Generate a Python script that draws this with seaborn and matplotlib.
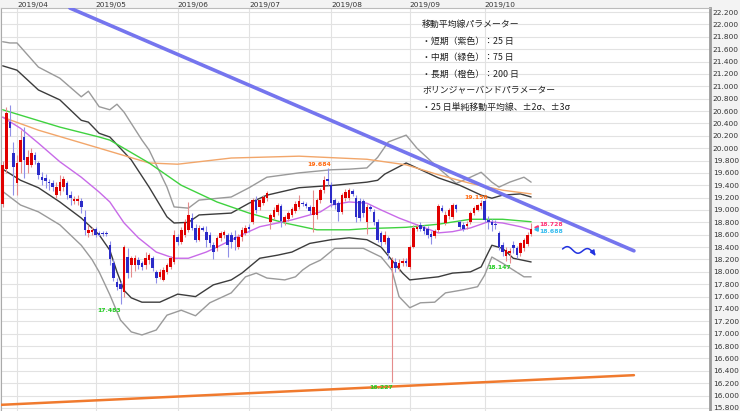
import numpy as np
import pandas as pd
import matplotlib
matplotlib.use("Agg")
import matplotlib.pyplot as plt
import seaborn as sns

# candles: index 0 = 2019/04/01, one step = one trading day
first_idx = -4
opens = [19.10, 19.66, 20.42, 19.92,
         19.44, 19.78, 20.18, 19.73, 19.73, 19.89, 19.76, 19.54, 19.52, 19.45,
         19.43, 19.24, 19.30, 19.37, 19.43, 19.24, 19.15, 19.14, 19.15, 18.89,
         18.63, 18.64, 18.69, 18.63, 18.63, 18.63, 18.43, 18.14, 17.84, 17.80,
         17.67, 18.24, 18.11, 18.11, 18.19, 18.14, 18.11, 18.19, 18.22, 17.99,
         17.92, 17.87, 18.00, 18.08, 18.16, 18.56, 18.48, 18.60, 18.68, 18.87,
         18.71, 18.52, 18.71, 18.64, 18.60, 18.43, 18.38, 18.54, 18.60, 18.60,
         18.60, 18.56, 18.40, 18.56, 18.63, 18.72, 18.81, 19.16, 19.05, 19.11,
         19.19, 18.80, 18.88, 18.96, 19.06, 18.80, 18.86, 18.92, 18.98, 19.05,
         19.12, 19.10, 19.05, 18.92, 18.92, 19.16, 19.32, 19.50, 19.40, 19.16,
         19.11, 18.97, 19.19, 19.20, 19.30, 19.19, 19.15, 19.15, 18.81, 19.05,
         18.97, 18.81, 18.63, 18.48, 18.55, 18.06, 18.16, 18.06, 18.14, 18.18,
         18.08, 18.40, 18.70, 18.76, 18.72, 18.70, 18.62, 18.58, 18.68, 19.04,
         18.79, 18.90, 18.88, 19.08, 18.80, 18.75, 18.74, 18.81, 18.95, 19.00,
         19.06, 19.14, 18.84, 18.80, 18.78, 18.63, 18.43, 18.26, 18.30, 18.44,
         18.38, 18.30, 18.38, 18.45, 18.62]
highs = [19.80, 20.66, 20.70, 20.10,
         19.89, 20.30, 20.34, 19.97, 20.00, 19.93, 19.80, 19.62, 19.58, 19.50,
         19.48, 19.45, 19.57, 19.55, 19.47, 19.30, 19.22, 19.25, 19.20, 19.00,
         18.75, 18.72, 18.73, 18.66, 18.66, 18.66, 18.50, 18.20, 17.90, 17.86,
         18.43, 18.38, 18.26, 18.28, 18.24, 18.18, 18.32, 18.30, 18.26, 18.03,
         18.05, 18.08, 18.14, 18.25, 18.68, 18.62, 18.72, 18.85, 19.13, 18.95,
         18.78, 18.75, 18.74, 18.74, 18.64, 18.48, 18.58, 18.66, 18.68, 18.63,
         18.64, 18.68, 18.62, 18.72, 18.76, 18.78, 19.20, 19.22, 19.18, 19.24,
         19.30, 18.95, 19.05, 19.12, 19.10, 18.92, 18.98, 19.05, 19.14, 19.25,
         19.15, 19.13, 19.08, 19.32, 19.20, 19.36, 19.55, 19.684, 19.45, 19.20,
         19.14, 19.28, 19.34, 19.36, 19.34, 19.24, 19.20, 19.18, 19.10, 19.08,
         19.02, 18.86, 18.66, 18.66, 18.58, 18.24, 18.22, 18.20, 18.22, 18.22,
         18.44, 18.76, 18.78, 18.80, 18.76, 18.74, 18.66, 18.70, 19.10, 19.08,
         18.98, 19.04, 19.12, 19.10, 18.84, 18.80, 18.82, 18.98, 19.06, 19.10,
         19.156, 19.17, 18.90, 18.86, 18.84, 18.66, 18.48, 18.40, 18.38, 18.50,
         18.42, 18.48, 18.55, 18.64, 18.79]
lows = [19.05, 19.60, 20.20, 19.24,
        19.24, 19.60, 19.52, 19.60, 19.70, 19.75, 19.50, 19.40, 19.35, 19.33,
        19.30, 19.20, 19.25, 19.30, 19.18, 19.08, 19.10, 19.08, 18.95, 18.60,
        18.57, 18.60, 18.57, 18.58, 18.58, 18.58, 18.11, 17.85, 17.70, 17.483,
        17.60, 17.90, 17.92, 18.02, 18.05, 18.03, 18.05, 18.12, 18.02, 17.82,
        17.88, 17.85, 17.97, 18.05, 18.12, 18.44, 18.45, 18.57, 18.65, 18.68,
        18.48, 18.50, 18.66, 18.40, 18.40, 18.20, 18.33, 18.50, 18.55, 18.24,
        18.38, 18.35, 18.37, 18.50, 18.60, 18.64, 18.78, 18.95, 19.00, 19.08,
        19.15, 18.70, 18.85, 18.92, 18.72, 18.76, 18.82, 18.88, 18.95, 19.02,
        19.06, 19.04, 18.94, 18.64, 18.85, 19.12, 19.28, 19.40, 19.05, 19.02,
        18.82, 18.94, 19.15, 19.16, 19.22, 18.80, 18.82, 18.88, 18.62, 18.98,
        18.75, 18.48, 18.42, 18.45, 18.20, 16.227, 18.00, 18.02, 18.10, 18.10,
        18.04, 18.38, 18.66, 18.66, 18.62, 18.55, 18.45, 18.55, 18.65, 18.96,
        18.76, 18.86, 18.85, 18.96, 18.70, 18.66, 18.70, 18.78, 18.92, 18.98,
        19.02, 18.80, 18.70, 18.66, 18.70, 18.36, 18.25, 18.18, 18.147, 18.30,
        18.22, 18.26, 18.34, 18.42, 18.58]
closes = [19.72, 20.56, 20.32, 19.70,
          19.76, 20.13, 19.81, 19.86, 19.92, 19.81, 19.57, 19.49, 19.47, 19.43,
          19.37, 19.37, 19.46, 19.50, 19.24, 19.19, 19.18, 19.17, 19.05, 18.68,
          18.68, 18.68, 18.60, 18.60, 18.61, 18.61, 18.20, 17.90, 17.76, 17.72,
          18.40, 17.98, 18.22, 18.22, 18.11, 18.08, 18.22, 18.27, 18.06, 17.90,
          18.00, 18.03, 18.11, 18.22, 18.60, 18.48, 18.68, 18.81, 18.92, 18.71,
          18.52, 18.71, 18.68, 18.52, 18.47, 18.32, 18.54, 18.63, 18.64, 18.43,
          18.48, 18.52, 18.56, 18.68, 18.71, 18.69, 19.16, 19.00, 19.16, 19.21,
          19.27, 18.92, 19.00, 19.08, 18.82, 18.88, 18.95, 19.02, 19.10, 19.15,
          19.10, 19.07, 18.98, 19.05, 19.16, 19.32, 19.48, 19.47, 19.11, 19.08,
          18.97, 19.24, 19.29, 19.32, 19.26, 18.89, 18.87, 18.95, 19.05, 19.02,
          18.81, 18.52, 18.48, 18.60, 18.30, 18.19, 18.06, 18.14, 18.18, 18.15,
          18.40, 18.71, 18.73, 18.70, 18.66, 18.60, 18.56, 18.66, 19.06, 18.98,
          18.92, 19.00, 19.08, 19.02, 18.72, 18.70, 18.78, 18.95, 19.03, 19.08,
          19.12, 18.84, 18.80, 18.76, 18.76, 18.40, 18.32, 18.36, 18.34, 18.38,
          18.27, 18.46, 18.52, 18.60, 18.688]
ask_last = 18.728

# indicator lines (x = trading-day index)
ma25_x = [-4, 1, 6, 12, 18, 23, 26, 30, 34, 39, 44, 48, 53, 56, 63, 68, 73, 77,
          82, 85, 88, 93, 98, 102, 107, 112, 118, 122, 127, 132, 136, 141, 144]
ma25_y = [20.50, 20.32, 20.08, 19.78, 19.53, 19.29, 19.13, 18.79, 18.55, 18.32,
          18.22, 18.22, 18.32, 18.40, 18.60, 18.73, 18.79, 18.84, 18.92, 18.97,
          19.08, 19.13, 19.11, 19.00, 18.87, 18.76, 18.63, 18.65, 18.71, 18.81,
          18.79, 18.73, 18.68]
ma75_x = [-4, 12, 23, 26, 37, 46, 56, 65, 75, 84, 93, 98, 104, 109, 118, 127,
          136, 144]
ma75_y = [20.62, 20.34, 20.18, 20.13, 19.76, 19.40, 19.13, 18.95, 18.79, 18.68,
          18.68, 18.70, 18.71, 18.72, 18.77, 18.85, 18.85, 18.81]
ma200_x = [-4, 6, 23, 37, 45, 60, 79, 98, 109, 118, 127, 136, 144]
ma200_y = [20.50, 20.29, 20.00, 19.76, 19.74, 19.84, 19.87, 19.82, 19.73, 19.57,
           19.43, 19.32, 19.26]

bb3u_x = [-4, -2, 0, 6, 12, 18, 20, 23, 26, 28, 30, 35, 37, 42, 44, 48, 51, 60,
          65, 70, 79, 88, 93, 98, 101, 104, 109, 112, 118, 123, 127, 130, 133,
          135, 138, 142, 144]
bb3u_y = [21.72, 21.70, 21.70, 21.31, 21.13, 20.83, 20.92, 20.67, 20.62, 20.71,
          20.58, 20.13, 19.97, 19.37, 19.05, 19.03, 19.16, 19.21, 19.36, 19.53,
          19.60, 19.65, 19.66, 19.68, 19.85, 20.10, 20.21, 20.00, 19.68, 19.43,
          19.53, 19.61, 19.45, 19.37, 19.45, 19.53, 19.45]
bb2u_x = [-4, 0, 6, 12, 18, 20, 23, 26, 32, 37, 42, 44, 48, 51, 60, 65, 70, 79,
          89, 98, 101, 103, 109, 118, 124, 130, 133, 136, 141, 144]
bb2u_y = [21.33, 21.26, 20.94, 20.78, 20.45, 20.42, 20.24, 20.18, 19.81, 19.37,
          18.89, 18.79, 18.80, 18.92, 18.95, 19.11, 19.24, 19.36, 19.40, 19.45,
          19.48, 19.58, 19.76, 19.52, 19.40, 19.24, 19.19, 19.24, 19.26, 19.21]
bb2l_x = [-4, 1, 6, 12, 18, 23, 26, 28, 30, 32, 35, 40, 45, 50, 55, 60, 63, 68,
          73, 77, 82, 88, 93, 98, 102, 105, 108, 110, 118, 122, 127, 130, 133,
          136, 139, 144]
bb2l_y = [19.66, 19.48, 19.36, 19.13, 18.87, 18.60, 18.35, 18.00, 17.70, 17.58,
          17.51, 17.51, 17.64, 17.60, 17.79, 17.87, 17.98, 18.22, 18.27, 18.32,
          18.46, 18.52, 18.55, 18.52, 18.40, 18.19, 17.98, 17.87, 17.92, 17.98,
          18.00, 18.08, 18.43, 18.38, 18.22, 18.16]
bb3l_x = [-4, 1, 6, 12, 18, 21, 23, 26, 29, 32, 35, 39, 42, 46, 50, 54, 60, 64,
          67, 70, 75, 78, 80, 82, 85, 89, 97, 102, 105, 107, 110, 113, 117, 120,
          125, 129, 131, 133, 136, 139, 142, 144]
bb3l_y = [19.30, 19.08, 18.97, 18.76, 18.43, 18.20, 18.00, 17.63, 17.22, 17.03,
          16.98, 17.06, 17.30, 17.38, 17.29, 17.50, 17.66, 17.92, 17.98, 17.90,
          17.87, 17.92, 18.03, 18.11, 18.19, 18.38, 18.38, 18.24, 18.03, 17.60,
          17.42, 17.50, 17.51, 17.66, 17.71, 17.76, 17.95, 18.24, 18.14, 18.03,
          17.92, 17.92]

# hand drawn trend lines
trend_hi_x = [14.8, 172.8]
trend_hi_y = [22.265, 18.34]
trend_lo_x = [-4.8, 172.8]
trend_lo_y = [15.85, 16.33]

month_pos = [0, 22, 45, 65, 88, 110, 131]
month_labels = ["2019/04", "2019/05", "2019/06", "2019/07", "2019/08",
                "2019/09", "2019/10"]

notes = ["移動平均線パラメーター",
         "・短期（紫色）：25 日",
         "・中期（緑色）：75 日",
         "・長期（橙色）：200 日",
         "ボリンジャーバンドパラメーター",
         "・25 日単純移動平均線、±2σ、±3σ"]

sns.set_theme(style="white")
plt.rcParams["font.family"] = ["Noto Sans CJK JP", "DejaVu Sans"]

fig = plt.figure(figsize=(7.4, 4.11), dpi=100, facecolor="#f3f3f3")
ax = fig.add_axes([1 / 740, 0, 709 / 740, 403 / 411])
ax.set_facecolor("white")

df = pd.DataFrame({"o": opens, "h": highs, "l": lows, "c": closes})
df["i"] = np.arange(first_idx, first_idx + len(df))
up = df.c >= df.o
wick_c = np.where(up, "#e58c8c", "#8f8fe8")
body_c = np.where(up, "#e00000", "#2b2bc8")

# indicator lines
lines = [(bb3u_x, bb3u_y, "#9a9a9a", 1.0), (bb3l_x, bb3l_y, "#9a9a9a", 1.0),
         (bb2u_x, bb2u_y, "#3c3c3c", 1.0), (bb2l_x, bb2l_y, "#3c3c3c", 1.0),
         (ma200_x, ma200_y, "#f2a66a", 1.0), (ma75_x, ma75_y, "#3fd23f", 1.0),
         (ma25_x, ma25_y, "#c86ae8", 1.0)]
for lx, ly, col, lw in lines:
    sns.lineplot(x=lx, y=ly, ax=ax, color=col, lw=lw, zorder=2)

ax.vlines(df.i, df.l, df.h, colors=wick_c, lw=0.8, zorder=3)
ax.bar(df.i, np.maximum((df.c - df.o).abs(), 0.015), bottom=np.minimum(df.o, df.c),
       width=0.72, color=body_c, lw=0, zorder=4)

sns.lineplot(x=trend_hi_x, y=trend_hi_y, ax=ax, color="#7575ee", lw=2.6, zorder=5)
sns.lineplot(x=trend_lo_x, y=trend_lo_y, ax=ax, color="#f07a2e", lw=1.8, zorder=5)

# high / low labels
def mark(idx, val, dx, dy, col):
    ax.text(idx + dx, val + dy, f"{val:.3f}", color=col, fontsize=4.4,
            fontweight="bold", ha="center", va="center", family="DejaVu Sans",
            zorder=6)

mark(87, 19.684, -2.3, 0.05, "#ff6a10")
mark(29, 17.483, -3.2, -0.10, "#22cc22")
mark(105, 16.227, -2.9, -0.09, "#22cc22")
mark(130, 19.156, -1.4, 0.04, "#ff6a10")
mark(138, 18.147, -2.9, -0.07, "#22cc22")

last_i = df.i.iloc[-1]
ax.plot(last_i + 1.3, ask_last, marker="<", ms=2.5, color="#ff3377", zorder=6)
ax.plot(last_i + 1.3, closes[-1], marker="<", ms=2.5, color="#33bbee", zorder=6)
ax.text(last_i + 2.3, ask_last + 0.03, f"{ask_last:.3f}", color="#ff3377",
        fontsize=4.4, fontweight="bold", va="center", family="DejaVu Sans")
ax.text(last_i + 2.3, closes[-1] - 0.03, f"{closes[-1]:.3f}", color="#33bbee",
        fontsize=4.4, fontweight="bold", va="center", family="DejaVu Sans")

# wavy arrow
t = np.linspace(0, 1, 60)
wx = last_i + 8.8 + 9.0 * t
wy = 18.37 - 0.05 * t + 0.045 * np.sin(2 * np.pi * 1.6 * t)
ax.plot(wx, wy, color="#2233e0", lw=1.1, zorder=6)
ax.annotate("", xy=(wx[-1] + 0.6, wy[-1] - 0.07), xytext=(wx[-4], wy[-4]),
            arrowprops=dict(arrowstyle="-|>", color="#2233e0", lw=1.1,
                            mutation_scale=7), zorder=6)

# parameter notes
for k, line in enumerate(notes):
    ax.text(0.594, 0.958 - k * 0.0407, line, transform=ax.transAxes,
            fontsize=6.4, color="#222222", va="center", ha="left", zorder=6)

ax.set_xlim(-4.48, 194.1)
ax.set_ylim(15.751, 22.265)
ax.set_yticks(np.round(np.arange(15.8, 22.21, 0.2), 1))
ax.set_yticklabels([f"{v:.3f}" for v in np.arange(15.8, 22.21, 0.2)])
ax.set_xticks(month_pos)
ax.set_xticklabels(month_labels, ha="left")
ax.yaxis.tick_right()
ax.xaxis.tick_top()
ax.tick_params(axis="y", length=0, pad=2, labelsize=5.3, labelcolor="#333333")
ax.tick_params(axis="x", length=0, pad=0, labelsize=5.3, labelcolor="#333333")
for lab in ax.get_yticklabels() + ax.get_xticklabels():
    lab.set_family("DejaVu Sans")
ax.grid(True, color="#e2e2e2", lw=0.8)
ax.set_axisbelow(True)
ax.set_xlabel("")
ax.set_ylabel("")

ax.spines["bottom"].set_visible(False)
ax.spines["left"].set_color("#aaaaaa")
ax.spines["left"].set_linewidth(0.8)
ax.spines["top"].set_color("#bbbbbb")
ax.spines["top"].set_linewidth(0.8)
ax.spines["right"].set_color("#9a9a9a")
ax.spines["right"].set_linewidth(2)

fig.savefig("out.png", dpi=100, facecolor=fig.get_facecolor())
